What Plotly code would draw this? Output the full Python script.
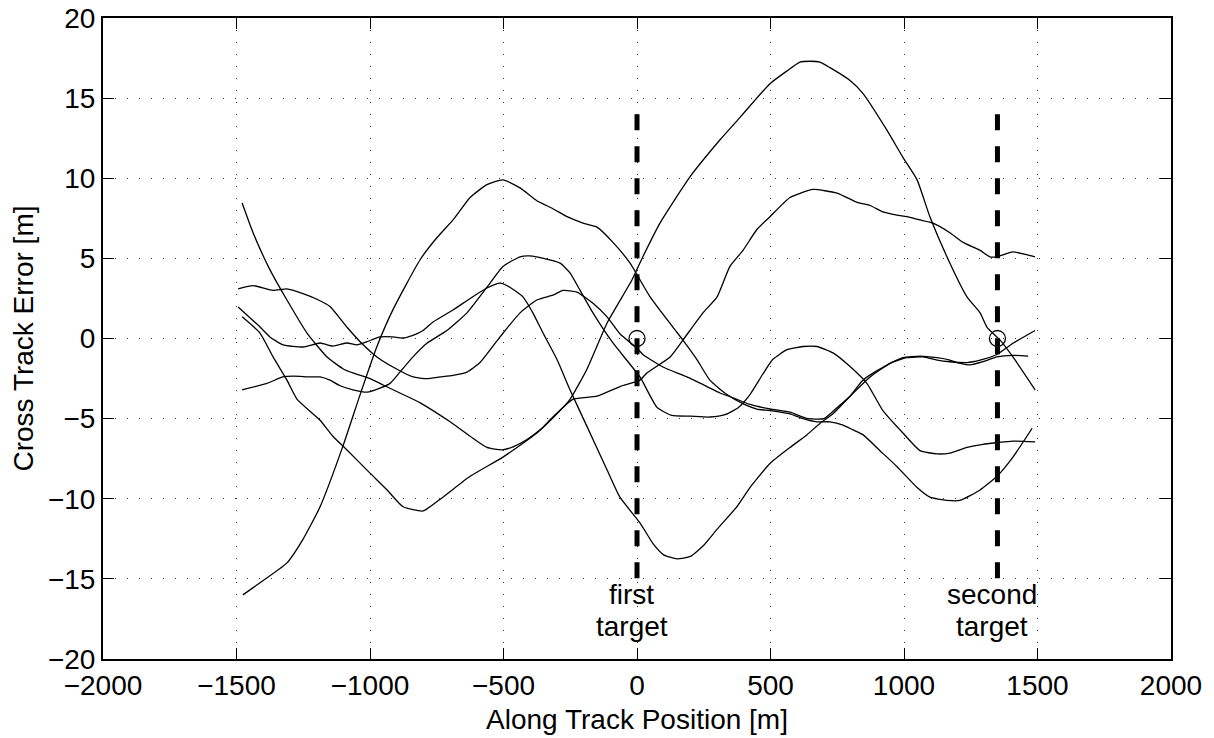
import plotly.graph_objects as go

# ---- data ----
a_x = [-1476, -1400, -1311, -1250, -1187, -1101, -1037, -974, -914, -813, -749, -689, -625, -562, -502,
       -438, -375, -315, -262, -202, -150, -90, -26, 49, 135, 172, 224, 273, 337, 400, 449, 498, 573,
       622, 674, 723, 772, 809, 846, 910, 974, 1049, 1097, 1160, 1210, 1285, 1348, 1408, 1480]
a_y = [-16.0, -15.1, -14.0, -12.5, -10.5, -6.7, -3.5, -0.5, 1.8, 4.9, 6.3, 7.4, 8.8, 9.6, 9.9,
       9.4, 8.6, 8.1, 7.6, 7.2, 6.95, 6.0, 4.7, 2.6, 0.7, -0.1, -1.3, -2.6, -3.5, -4.1, -4.4, -4.5, -4.7,
       -5.0, -5.2, -5.2, -5.4, -5.7, -6.0, -7.0, -8.0, -9.3, -9.9, -10.1, -10.1, -9.45, -8.6, -7.4, -5.6]

b_x = [-1479, -1412, -1363, -1311, -1273, -1187, -1139, -1086, -1000, -936, -876, -801, -727, -625, -502,
       -375, -288, -251, -187, -112, -19, 22, 86, 199, 311, 386, 498, 562, 610, 648, 685, 723, 798, 846,
       936, 996, 1049, 1097, 1172, 1236, 1285, 1311, 1360, 1408, 1491]
b_y = [1.35, 0.34, -1.15, -2.6, -3.8, -5.1, -6.1, -6.96, -8.4, -9.45, -10.5, -10.76, -9.9, -8.6, -7.4,
       -5.9, -4.5, -3.8, -1.9, 0.97, 3.65, 5.1, 7.2, 10.1, 12.4, 13.8, 15.9, 16.7, 17.25, 17.3, 17.25, 16.9, 16.1, 15.3,
       13.0, 11.3, 9.9, 7.6, 4.7, 2.6, 1.6, 0.7, -0.1, -1.15, -3.2]

c_x = [-1479, -1438, -1375, -1311, -1236, -1161, -1100, -1064, -1000, -951, -888, -813, -764, -700, -625,
       -562, -505, -464, -412, -363, -315, -240, -150, -64, 11, 37, 124, 172, 247, 300, 348, 397, 449,
       498, 573, 659, 749, 824, 873, 921, 974, 1011, 1060, 1109, 1172, 1221, 1285, 1322, 1348, 1408, 1491]
c_y = [8.45, 6.6, 4.3, 2.4, 0.34, -1.15, -1.9, -2.15, -2.5, -2.9, -3.4, -4.0, -4.5, -5.2, -6.1,
       -6.8, -6.95, -6.76, -6.3, -5.7, -4.9, -3.8, -3.6, -3.0, -2.6, -2.15, -1.15, -0.1, 1.6, 2.6, 4.5, 5.5, 6.8,
       7.6, 8.8, 9.3, 9.07, 8.5, 8.3, 7.9, 7.7, 7.6, 7.4, 7.2, 6.6, 6.0, 5.5, 5.1, 5.1, 5.4, 5.1]

d_x = [-1494, -1412, -1375, -1326, -1251, -1187, -1139, -1086, -1049, -1011, -963, -914, -880, -839, -801,
       -764, -689, -625, -562, -513, -476, -427, -390, -352, -300, -251, -187, -112, -64, 11, 60, 100, 150,
       200, 250, 300, 374, 423, 498, 573, 637, 685, 734, 798, 873, 948, 1011, 1071, 1124, 1172, 1236, 1285,
       1348, 1408, 1491]
d_y = [1.97, 0.72, 0.1, -0.4, -0.53, -0.28, -0.47, -0.28, -0.4, -0.2, 0.1, 0.1, 0.03, 0.2, 0.5,
       1.03, 1.78, 2.5, 3.15, 3.46, 3.2, 2.6, 1.6, 0.34, -1.3, -3.2, -5.5, -8.2, -9.9, -11.5, -12.8, -13.5, -13.75,
       -13.6, -12.9, -11.9, -10.5, -9.3, -7.8, -6.8, -6.0, -5.3, -4.7, -3.6, -2.4, -1.55, -1.2, -1.15, -1.35, -1.45, -1.5, -1.35,
       -1.0, -0.3, 0.5]

e_x = [-1479, -1386, -1326, -1288, -1225, -1187, -1150, -1112, -1064, -1011, -963, -925, -888, -839, -787,
       -712, -637, -562, -502, -438, -401, -350, -288, -251, -213, -165, -90, 11, 75, 130, 200, 273, 330,
       380, 423, 472, 509, 562, 622, 674, 734, 798, 861, 921, 996, 1060, 1124, 1172, 1236, 1296, 1348, 1408, 1491]
e_y = [-3.2, -2.8, -2.4, -2.35, -2.4, -2.4, -2.6, -2.95, -3.2, -3.35, -3.1, -2.8, -2.1, -1.15, -0.3,
       0.5, 1.6, 3.2, 4.5, 5.1, 5.15, 5.0, 4.7, 4.1, 3.0, 1.6, -0.28, -2.4, -4.3, -4.8, -4.85, -4.9, -4.75,
       -4.3, -3.5, -2.2, -1.3, -0.7, -0.5, -0.5, -0.9, -1.75, -2.8, -4.5, -5.9, -7.0, -7.2, -7.15, -6.8, -6.6, -6.5, -6.4, -6.45]

f_x = [-1494, -1438, -1363, -1311, -1251, -1199, -1150, -1086, -1037, -974, -914, -839, -787, -738, -689,
       -637, -588, -513, -438, -375, -315, -277, -225, -165, -112, -64, 0, 22, 97, 187, 262, 311, 360, 420,
       498, 573, 640, 700, 750, 798, 846, 921, 996, 1060, 1124, 1172, 1199, 1247, 1296, 1348, 1408, 1465]
f_y = [3.1, 3.3, 3.0, 3.1, 2.8, 2.45, 2.0, 0.7, -0.2, -1.15, -1.78, -2.4, -2.5, -2.4, -2.3,
       -2.1, -1.5, 0.1, 1.6, 2.4, 2.7, 3.0, 2.9, 2.2, 1.35, 0.3, -0.6, -1.0, -1.78, -2.4, -3.0, -3.4, -3.7, -4.1,
       -4.4, -4.6, -5.0, -5.0, -4.3, -3.6, -2.6, -1.8, -1.2, -1.1, -1.2, -1.35, -1.5, -1.65, -1.45, -1.15, -1.05, -1.1]

curves = [(a_x, a_y), (b_x, b_y), (c_x, c_y), (d_x, d_y), (e_x, e_y), (f_x, f_y)]

target_x = [0, 1350]
target_y = [0, 0]
marker_top = 14
marker_bottom = -15
label_lines = [("first", "target"), ("second", "target")]
label_x = [-20, 1328]

x_ticks = [-2000, -1500, -1000, -500, 0, 500, 1000, 1500, 2000]
y_ticks = [-20, -15, -10, -5, 0, 5, 10, 15, 20]
x_labels = ["\u22122000", "\u22121500", "\u22121000", "\u2212500", "0", "500", "1000", "1500", "2000"]
y_labels = ["\u221220", "\u221215", "\u221210", "\u22125", "0", "5", "10", "15", "20"]

FONT = "Liberation Sans, Arial, Helvetica, sans-serif"
fig = go.Figure()

for cx, cy in curves:
    fig.add_trace(go.Scatter(x=cx, y=cy, mode="lines",
                             line=dict(color="black", width=1.3, shape="spline", smoothing=0.5),
                             showlegend=False, hoverinfo="skip"))

for tx in target_x:
    fig.add_trace(go.Scatter(x=[tx, tx], y=[marker_top, marker_bottom], mode="lines",
                             line=dict(color="black", width=5, dash="16px,16px"),
                             showlegend=False, hoverinfo="skip"))

fig.add_trace(go.Scatter(x=target_x, y=target_y, mode="markers",
                         marker=dict(symbol="circle-open", size=16, color="black", line=dict(width=1.3)),
                         showlegend=False, hoverinfo="skip"))

for (l1, l2), lx in zip(label_lines, label_x):
    fig.add_annotation(x=lx, y=-16.63, text=l1, showarrow=False, yanchor="bottom", xanchor="center",
                       font=dict(family=FONT, size=28, color="black"), yshift=-7)
    fig.add_annotation(x=lx, y=-18.62, text=l2, showarrow=False, yanchor="bottom", xanchor="center",
                       font=dict(family=FONT, size=28, color="black"), yshift=-7)

axis_common = dict(showline=True, linecolor="black", linewidth=2, mirror="ticks",
                   ticks="inside", ticklen=11, tickwidth=1.2, tickcolor="black",
                   showgrid=True, gridcolor="#333333", gridwidth=1, griddash="1px,11px",
                   zeroline=False, automargin=False, ticklabeloverflow="allow",
                   tickfont=dict(family=FONT, size=28, color="black"))

fig.update_xaxes(range=[-2000, 2000], tickvals=x_ticks, ticktext=x_labels,
                 title=dict(text="Along Track Position [m]", font=dict(family=FONT, size=28, color="black"), standoff=10),
                 **axis_common)
fig.update_yaxes(range=[-20, 20], tickvals=y_ticks, ticktext=y_labels,
                 title=dict(text="Cross Track Error [m]", font=dict(family=FONT, size=28, color="black"), standoff=6),
                 **axis_common)

# the page body adds an 8px offset, so the figure is 8px smaller and margins shifted
fig.update_layout(width=1206, height=730, margin=dict(l=95, r=43, t=10, b=79),
                  plot_bgcolor="white", paper_bgcolor="white", showlegend=False)

fig.write_html("out.html")
